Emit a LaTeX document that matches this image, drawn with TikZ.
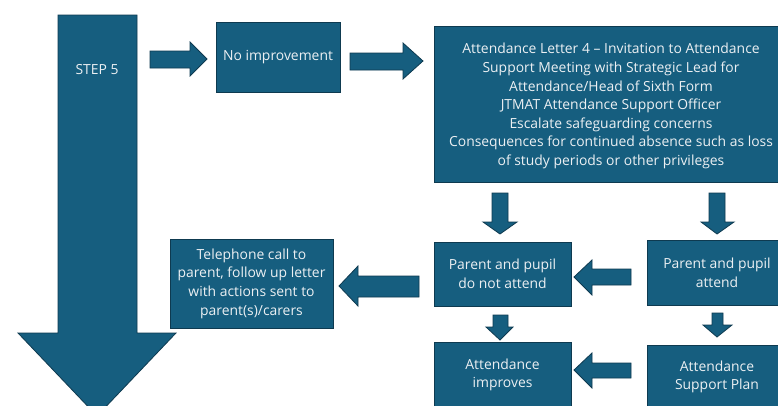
\documentclass[tikz,border=0pt]{standalone}
\usepackage{fontspec}
\setmainfont{Open Sans}
\definecolor{boxfill}{RGB}{22,94,127}
\definecolor{boxline}{RGB}{14,58,80}
\definecolor{boxtext}{RGB}{236,240,243}
\begin{document}
\begin{tikzpicture}[x=1pt,y=-1pt,
  boxtxt/.style={text=boxtext,align=center,inner sep=0pt,font=\fontsize{13.9}{18.6}\selectfont},
  box/.style={boxtxt,draw=boxline,fill=boxfill,line width=0.8pt},
  barrow/.style={draw=boxline,fill=boxfill,line width=0.8pt,line join=miter}]
\clip (0,0) rectangle (778,405);
\fill[white] (0,0) rectangle (778,405);
% big STEP 5 arrow
\draw[barrow] (58,15) -- (137,15) -- (137,333) -- (176,333) -- (97,416) -- (18,333) -- (58,333) -- cycle;
\node[boxtxt] (step5) at (97,70) {STEP 5};
% boxes
\node[box,minimum width=124pt,minimum height=70pt] (noimp) at (278,57) {No improvement};
\node[box,minimum width=354pt,minimum height=156pt] (letter) at (611,104) {};
\node[boxtxt] (lettertext) at (611,106) {Attendance Letter 4 -- Invitation to Attendance\\Support Meeting with Strategic Lead for\\Attendance/Head of Sixth Form\\JTMAT Attendance Support Officer\\Escalate safeguarding concerns\\Consequences for continued absence such as loss\\of study periods or other privileges};
\node[box,minimum width=137pt,minimum height=64pt] (notatt) at (502.5,274) {Parent and pupil\\do not attend};
\node[box,minimum width=140pt,minimum height=65pt] (att) at (717,273) {Parent and pupil\\attend};
\node[box,minimum width=163pt,minimum height=89pt] (phone) at (251.5,283.5) {Telephone call to\\parent, follow up letter\\with actions sent to\\parent(s)/carers};
\node[box,minimum width=137pt,minimum height=66pt] (improves) at (502.5,375) {Attendance\\improves};
\node[box,minimum width=140pt,minimum height=64pt] (plan) at (717,377) {Attendance\\Support Plan};
% block arrows
\draw[barrow] (150,51) -- (190,51) -- (190,42) -- (207,59) -- (190,76) -- (190,68) -- (150,68) -- cycle;
\draw[barrow] (350,53) -- (403,53) -- (403,43) -- (423,61) -- (403,79) -- (403,70) -- (350,70) -- cycle;
\draw[barrow] (492,193) -- (508,193) -- (508,222) -- (517,222) -- (500,234) -- (483,222) -- (492,222) -- cycle;
\draw[barrow] (709,193) -- (725,193) -- (725,222) -- (734,222) -- (717,234) -- (701,222) -- (709,222) -- cycle;
\draw[barrow] (631,269) -- (592,269) -- (592,260) -- (574,277) -- (592,295) -- (592,285) -- (631,285) -- cycle;
\draw[barrow] (419,276) -- (358,276) -- (358,266) -- (339,286) -- (358,306) -- (358,297) -- (419,297) -- cycle;
\draw[barrow] (493,315) -- (508,315) -- (508,327) -- (513,327) -- (500,340) -- (486,327) -- (493,327) -- cycle;
\draw[barrow] (712,313) -- (723,313) -- (723,325) -- (732,325) -- (717,337) -- (703,325) -- (712,325) -- cycle;
\draw[barrow] (631,363) -- (592,363) -- (592,353) -- (574,370) -- (592,388) -- (592,378) -- (631,378) -- cycle;
\end{tikzpicture}
\end{document}
